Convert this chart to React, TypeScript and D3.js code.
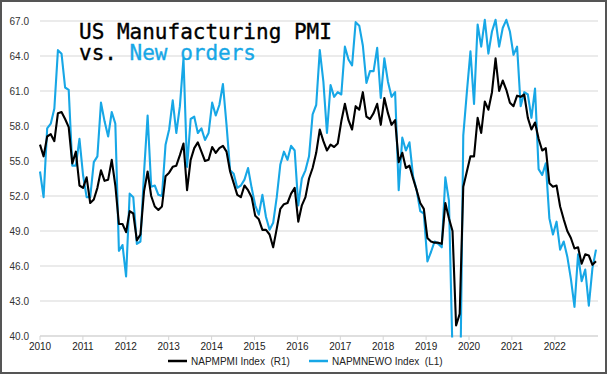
import React from 'react';
import * as d3 from 'd3';

const YEARS = [2010, 2011, 2012, 2013, 2014, 2015, 2016, 2017, 2018, 2019, 2020, 2021, 2022];
const Y_TICKS = [40, 43, 46, 49, 52, 55, 58, 61, 64, 67];

const PMI = [
  56.4, 55.4, 57.1, 57.3, 56.7, 59.1, 59.2, 58.6, 57.9, 54.8, 55.8, 52.9, 52.7, 53.6, 51.4, 51.7,
  52.7, 54.2, 53.3, 53.4, 55.1, 52.9, 49.6, 49.6, 48.9, 50.7, 50.5, 48.2, 48.7, 52.4, 54.1,
  52.0, 51.1, 50.8, 51.1, 53.7, 54.0, 54.5, 54.6, 55.5, 56.5, 52.5, 55.1, 56.1, 56.6, 55.8, 55.0,
  55.1, 56.2, 55.7, 56.1, 56.3, 55.8, 54.1, 53.1, 52.1, 51.9, 52.9, 52.5, 51.9, 50.3, 50.0,
  49.1, 49.1, 48.7, 47.6, 49.2, 50.9, 51.3, 51.4, 52.2, 52.7, 49.8, 51.2, 51.9, 53.5, 54.4, 55.7,
  57.7, 56.7, 55.9, 56.4, 56.2, 56.5, 58.4, 59.9, 58.5, 57.7, 59.7, 59.4, 60.9, 58.8, 58.6,
  59.1, 59.9, 58.1, 60.4, 59.1, 58.1, 58.5, 54.9, 55.7, 54.4, 54.6, 53.5, 52.5, 51.4, 50.9, 48.4,
  48.1, 48.0, 48.0, 47.9, 51.4, 50.1, 49.0, 40.9, 41.9, 52.8, 54.1, 55.4, 55.4, 58.7,
  57.4, 60.1, 59.4, 60.9, 63.8, 61.0, 61.9, 61.1, 60.0, 59.7, 60.6, 60.5, 60.7, 58.7, 57.7, 58.3,
  56.9, 55.9, 56.1, 53.1, 52.8, 52.9, 51.1, 50.0, 49.0, 48.4, 47.5, 47.6, 46.2, 47.0, 46.9, 46.1, 46.4,
];

// NAPMNEWO Index (L1), monthly
const NEW_ORDERS = [
  54.1, 51.9, 57.8, 58.2, 59.5, 64.5, 64.2, 61.3, 61.1, 54.6, 54.6, 56.9, 53.8, 51.9, 51.9, 54.9,
  55.4, 60.0, 58.4, 57.1, 59.2, 58.2, 47.3, 47.8, 45.1, 52.2, 51.9, 47.9, 48.1, 54.0, 58.9,
  52.8, 52.9, 52.1, 52.0, 56.4, 57.7, 60.2, 57.4, 59.7, 63.8, 54.5, 58.6, 58.8, 57.4, 57.8, 56.8,
  57.4, 60.0, 58.9, 59.8, 61.6, 58.1, 54.2, 53.9, 52.7, 52.9, 53.4, 54.4, 52.7, 51.2, 50.4,
  52.1, 50.2, 49.1, 49.7, 51.9, 54.7, 55.8, 55.1, 56.3, 55.9, 51.2, 53.5, 54.2, 55.4, 59.0, 59.8,
  64.5, 61.8, 57.4, 61.5, 60.5, 60.9, 60.7, 64.8, 63.7, 63.2, 66.9, 66.6, 64.9, 61.7, 62.7,
  62.7, 64.7, 60.4, 63.8, 61.8, 60.5, 60.9, 52.5, 57.0, 55.9, 56.6, 53.7, 52.5, 50.7, 50.5, 46.4,
  47.2, 48.1, 47.9, 47.6, 53.6, 51.6, 38.5, 27.1, 31.8, 57.2, 60.9, 64.4, 59.9, 66.7,
  64.8, 67.1, 64.2, 66.1, 67.1, 64.8, 66.4, 67.1, 66.1, 64.1, 64.8, 59.7, 60.9, 60.7, 58.7, 61.2,
  54.3, 53.8, 54.8, 50.1, 48.7, 49.8, 47.4, 48.1, 46.8, 44.9, 42.5, 47.0, 44.7, 45.7, 42.6, 45.8, 47.4,
];

const BLUE = '#17A7E6';
const BLACK = '#000000';
const AXIS_FONT = '"Liberation Sans", Arial, sans-serif';
const TITLE_FONT = '"DejaVu Sans Mono", "Liberation Mono", monospace';

export default function App() {
  const W = 609;
  const H = 376;
  const left = 40;
  const right = 598;
  const top = 21;
  const bottom = 336;

  const x = d3.scaleLinear().domain([0, PMI.length - 1]).range([left, 596]);
  const xYear = d3.scaleLinear().domain([2010, 2023]).range([left, 597.7]);
  const y = d3.scaleLinear().domain([40, 67]).range([bottom, top]);

  const line = d3
    .line<number>()
    .x((_, i) => x(i))
    .y((d) => y(d));

  return (
    <svg
      width={W}
      height={H}
      viewBox={`0 0 ${W} ${H}`}
      style={{ position: 'absolute', left: 0, top: 0, background: '#fff' }}
    >
      <defs>
        <clipPath id="plotClip">
          <rect x={0} y={0} width={W} height={bottom + 1.5} />
        </clipPath>
      </defs>
      <rect x={0} y={0} width={W} height={H} fill="#fff" />

      {/* gridlines */}
      {Y_TICKS.map((t) => (
        <line
          key={'g' + t}
          x1={left}
          x2={right}
          y1={y(t)}
          y2={y(t)}
          stroke={t === 40 ? '#d4d4d4' : '#e4e4e4'}
          strokeWidth={1.3}
        />
      ))}

      {/* y labels */}
      {Y_TICKS.map((t) => (
        <text
          key={'yl' + t}
          x={29}
          y={y(t)}
          dy="0.35em"
          textAnchor="end"
          fontFamily={AXIS_FONT}
          fontSize={10}
          fill="#333"
        >
          {t.toFixed(1)}
        </text>
      ))}

      {/* x ticks & labels */}
      {YEARS.map((yr) => (
        <g key={'x' + yr}>
          <line x1={xYear(yr)} x2={xYear(yr)} y1={bottom} y2={bottom + 4} stroke="#d4d4d4" strokeWidth={1} />
          <text
            x={xYear(yr)}
            y={349.5}
            textAnchor="middle"
            fontFamily={AXIS_FONT}
            fontSize={10}
            fill="#222"
          >
            {yr}
          </text>
        </g>
      ))}

      {/* series */}
      <g clipPath="url(#plotClip)">
        <path d={line(NEW_ORDERS) || ''} fill="none" stroke={BLUE} strokeWidth={2.1} strokeLinejoin="round" />
        <path d={line(PMI) || ''} fill="none" stroke={BLACK} strokeWidth={2.1} strokeLinejoin="round" />
      </g>

      {/* title */}
      <text x={79} y={39} fontFamily={TITLE_FONT} fontSize={21} fill="#000" stroke="#000" strokeWidth={0.35}>
        US Manufacturing PMI
      </text>
      <text x={79} y={60} fontFamily={TITLE_FONT} fontSize={21} fill="#000" stroke="#000" strokeWidth={0.35} style={{ whiteSpace: 'pre' }}>
        <tspan>{'vs. '}</tspan>
        <tspan fill={BLUE} stroke={BLUE}>New orders</tspan>
      </text>

      {/* legend */}
      <line x1={168} x2={187} y1={361} y2={361} stroke={BLACK} strokeWidth={2.5} />
      <text x={191} y={364.5} fontFamily={AXIS_FONT} fontSize={10} fill="#222" style={{ whiteSpace: 'pre' }}>
        {'NAPMPMI Index  (R1)'}
      </text>
      <line x1={309} x2={328} y1={361} y2={361} stroke={BLUE} strokeWidth={2.5} />
      <text x={332} y={364.5} fontFamily={AXIS_FONT} fontSize={10} fill="#222" style={{ whiteSpace: 'pre' }}>
        {'NAPMNEWO Index  (L1)'}
      </text>

      {/* frame */}
      <rect x={1} y={1} width={605} height={372} fill="none" stroke="#555" strokeWidth={2} />
    </svg>
  );
}
